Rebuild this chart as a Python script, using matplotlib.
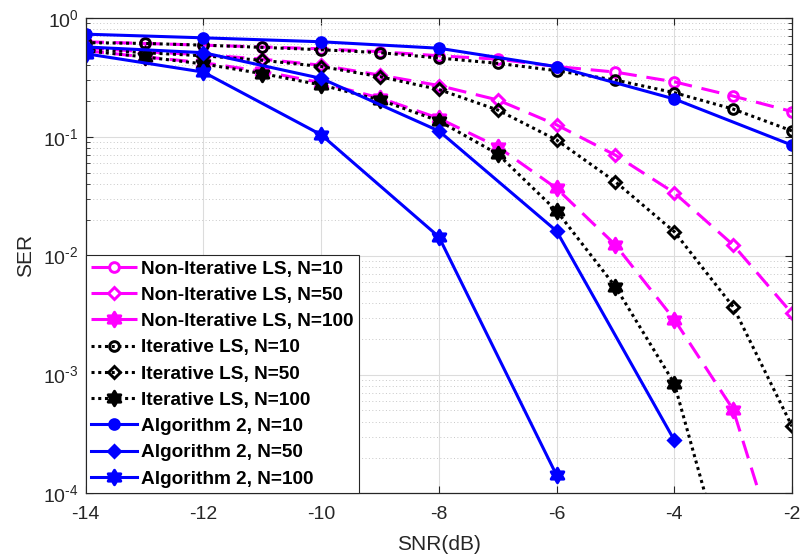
import numpy as np
import matplotlib
matplotlib.use("Agg")
import matplotlib.pyplot as plt
from matplotlib.ticker import LogLocator, FixedLocator, NullFormatter, FuncFormatter
from matplotlib.path import Path

plt.rcParams['font.family'] = ['Liberation Sans', 'DejaVu Sans']
plt.rcParams['mathtext.fontset'] = 'custom'
plt.rcParams['mathtext.rm'] = 'Liberation Sans'
plt.rcParams['mathtext.it'] = 'Liberation Sans:italic'
plt.rcParams['mathtext.bf'] = 'Liberation Sans:bold'
plt.rcParams['axes.unicode_minus'] = False

# ---- data ----
snr_all = [-14, -13, -12, -11, -10, -9, -8, -7, -6, -5, -4, -3, -2]
snr_even = [-14, -12, -10, -8, -6, -4, -2]

noniter_n10 = [0.63, 0.61, 0.59, 0.57, 0.55, 0.52, 0.48, 0.45, 0.39, 0.35, 0.29, 0.22, 0.163]
noniter_n50 = [0.56, 0.52, 0.49, 0.45, 0.40, 0.33, 0.27, 0.204, 0.126, 0.070, 0.0338, 0.0123, 0.00326]
noniter_n100 = [0.53, 0.47, 0.42, 0.355, 0.285, 0.212, 0.143, 0.0824, 0.0368, 0.0123, 0.0029, 0.000507, 1.3e-5]

iter_n10 = [0.62, 0.61, 0.59, 0.565, 0.54, 0.51, 0.46, 0.415, 0.36, 0.30, 0.235, 0.171, 0.112]
iter_n50 = [0.55, 0.51, 0.48, 0.44, 0.39, 0.32, 0.25, 0.168, 0.094, 0.0418, 0.0159, 0.00371, 0.000366]
iter_n100 = [0.53, 0.47, 0.41, 0.34, 0.273, 0.204, 0.136, 0.0716, 0.0238, 0.00547, 0.00084, 1.4e-5, np.nan]

alg2_n10 = [0.73, 0.68, 0.63, 0.556, 0.389, 0.208, 0.085]
alg2_n50 = [0.57, 0.51, 0.31, 0.112, 0.0161, 0.00028, np.nan]
alg2_n100 = [0.50, 0.35, 0.104, 0.0144, 0.000142, np.nan, np.nan]

labels = ["Non-Iterative LS, N=10", "Non-Iterative LS, N=50", "Non-Iterative LS, N=100",
          "Iterative LS, N=10", "Iterative LS, N=50", "Iterative LS, N=100",
          "Algorithm 2, N=10", "Algorithm 2, N=50", "Algorithm 2, N=100"]
xticks = [-14, -12, -10, -8, -6, -4, -2]

# hexagram marker (Star of David outline)
ang = np.deg2rad(90 + 30 * np.arange(12))
rad = np.where(np.arange(12) % 2 == 0, 1.0, 1 / np.sqrt(3))
verts = np.column_stack([rad * np.cos(ang), rad * np.sin(ang)])
verts = np.vstack([verts, verts[:1]])
codes = [Path.MOVETO] + [Path.LINETO] * 11 + [Path.CLOSEPOLY]
hexagram = Path(verts, codes)

# ---- figure ----
fig = plt.figure(figsize=(8.01, 5.60), dpi=100)
ax = fig.add_axes([0.1070, 0.1190, 0.8818, 0.8490])

MAG = '#FF00FF'
BLU = '#0000FF'
lw = 2.2
dash = (0, (6, 3.2))
dot = (0, (1, 1.2))

series = [
    (snr_all, noniter_n10, MAG, dash, 'o', 'none', 7.0),
    (snr_all, noniter_n50, MAG, dash, 'D', 'none', 6.5),
    (snr_all, noniter_n100, MAG, dash, hexagram, MAG, 10.5),
    (snr_all, iter_n10, 'k', dot, 'o', 'none', 7.0),
    (snr_all, iter_n50, 'k', dot, 'D', 'none', 6.5),
    (snr_all, iter_n100, 'k', dot, hexagram, 'k', 10.5),
    (snr_even, alg2_n10, BLU, '-', 'o', BLU, 7.0),
    (snr_even, alg2_n50, BLU, '-', 'D', BLU, 6.5),
    (snr_even, alg2_n100, BLU, '-', hexagram, BLU, 10.5),
]
for (x, y, c, ls, m, mfc, ms), lab in zip(series, labels):
    ax.plot(x, y, color=c, linestyle=ls, linewidth=lw, marker=m, markersize=ms,
            markerfacecolor=mfc, markeredgecolor=c, markeredgewidth=2.1, label=lab,
            dash_capstyle='butt')

ax.set_yscale('log')
ax.set_xlim(-14, -2)
ax.set_ylim(1e-4, 1)
ax.xaxis.set_major_locator(FixedLocator(xticks))
ax.xaxis.set_major_formatter(FuncFormatter(lambda v, p: '%d' % v))
ax.yaxis.set_major_locator(LogLocator(base=10, numticks=10))
ax.yaxis.set_minor_locator(LogLocator(base=10, subs=np.arange(2, 10), numticks=10))
ax.yaxis.set_minor_formatter(NullFormatter())


def yfmt(v, p):
    e = int(round(np.log10(v)))
    if e < 0:
        return r'$\mathdefault{10^{\text{-}%d}}$' % (-e)
    return r'$\mathdefault{10^{%d}}$' % e


ax.yaxis.set_major_formatter(FuncFormatter(yfmt))

ax.grid(True, which='major', color='#dcdcdc', linewidth=0.8, linestyle='-')
ax.grid(True, which='minor', axis='y', color='#c8c8c8', linewidth=0.7, linestyle=(0, (1, 2.5)))
ax.set_axisbelow(True)

ax.tick_params(which='both', direction='in', top=True, right=True, colors='#262626',
               labelsize=14)
ax.tick_params(which='major', length=5, width=0.8)
ax.tick_params(which='minor', length=3, width=0.6)
ax.tick_params(axis='x', which='major', pad=9)
ax.tick_params(axis='y', which='major', pad=5)
for s in ax.spines.values():
    s.set_color('#262626')
    s.set_linewidth(0.9)

ax.set_xlabel('SNR(dB)', fontsize=15, color='#262626', labelpad=9)
ax.set_ylabel('SER', fontsize=15, color='#262626', labelpad=6)

leg = ax.legend(loc='lower left', borderaxespad=0.0,
                prop={'weight': 'bold', 'size': 13.7}, handlelength=2.4,
                handletextpad=0.2, labelspacing=0.47, borderpad=0.3,
                fancybox=False, framealpha=1, edgecolor='#262626')
leg.get_frame().set_linewidth(0.8)

fig.savefig('out.png', dpi=100)
